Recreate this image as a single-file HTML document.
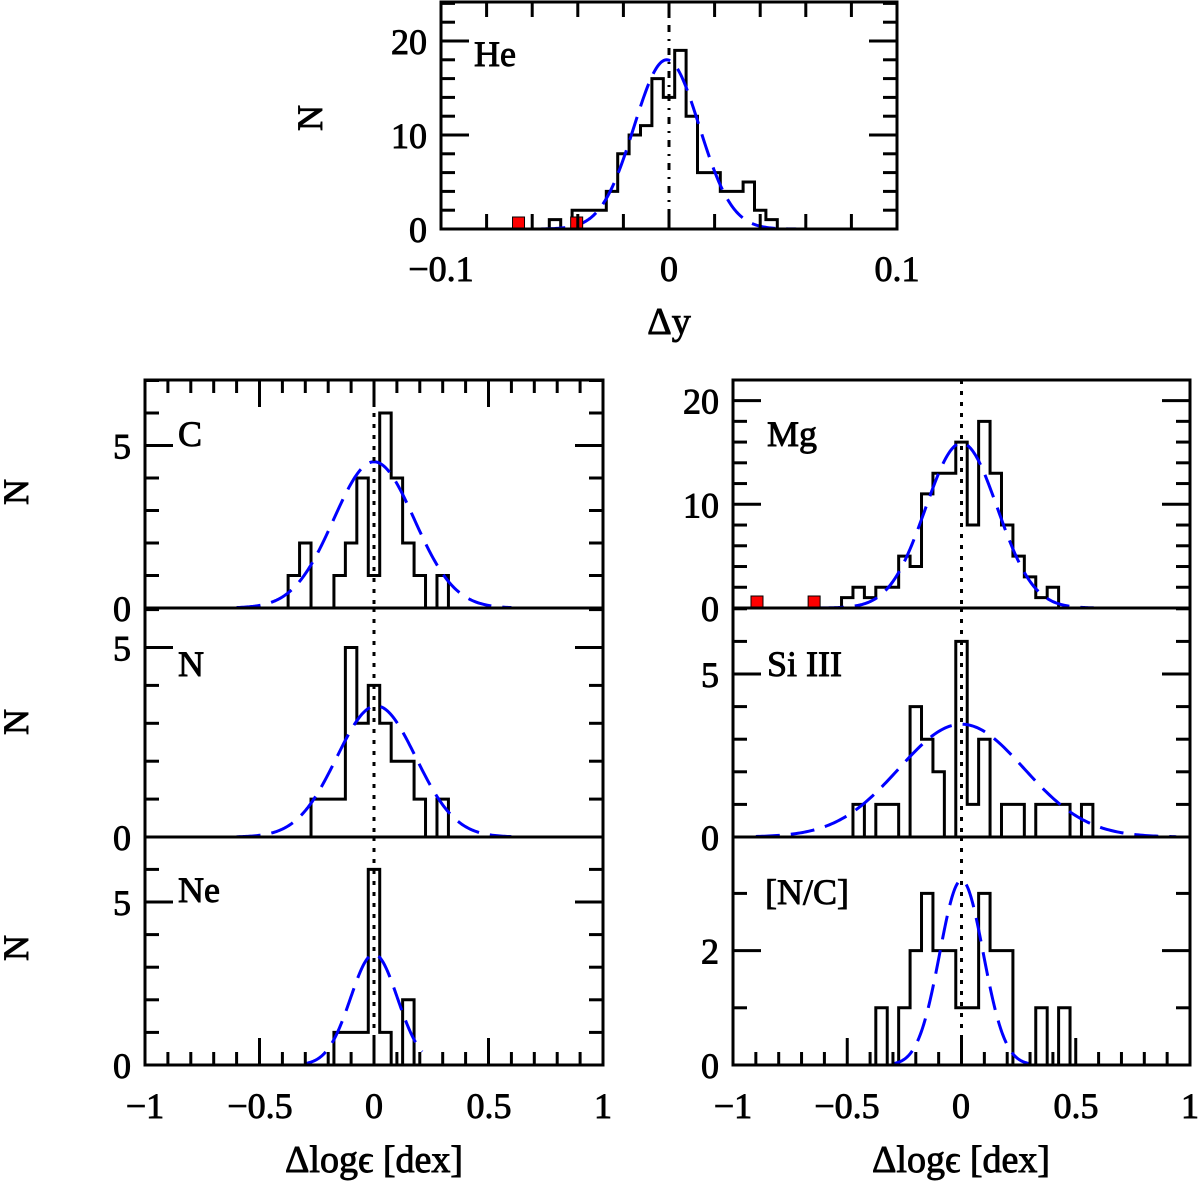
<!DOCTYPE html>
<html><head><meta charset="utf-8"><style>
html,body{margin:0;padding:0;background:#fff;}
svg{display:block;}
text{font-family:"Liberation Serif",serif;fill:#000;stroke:#000;stroke-width:0.9px;}
</style></head><body>
<svg id="fig" width="1200" height="1183" viewBox="0 0 1200 1183" xmlns="http://www.w3.org/2000/svg"></svg>
<script>
// ---- data ----
const heStart = -0.0525, heWidth = 0.005;
const heCounts = [1,0,2,2,2,4,8,10,11,16,14,19,12,6,6,4,4,5,2,1];
const heOutliers = [-0.066, -0.0405];
const heGauss = [-0.001, 0.0143, 18];   // mean, sigma, amplitude
const heGaussRange = [-0.056, 0.056];

const cStart = -0.375, cWidth = 0.05;
const cCounts = [1,2,0,0,1,2,4,1,6,4,2,1,0,1];
const cGauss = [0.0, 0.176, 4.5];
const cGaussRange = [-0.6, 0.6];

const nStart = -0.275, nWidth = 0.05;
const nCounts = [1,1,1,5,3,4,3,2,2,1,0,1];
const nGauss = [0.01, 0.173, 3.46];
const nGaussRange = [-0.6, 0.6];

const neStart = -0.175, neWidth = 0.05;
const neCounts = [1,1,1,6,1,0,2];
const neGauss = [0.0, 0.102, 3.4];
const neGaussRange = [-0.3, 0.21];

const mgStart = -0.525, mgWidth = 0.05;
const mgCounts = [1,2,1,2,2,5,4,11,13,13,16,8,18,13,8,5,3,1,2];
const mgOutliers = [-0.895, -0.645];
const mgGauss = [0.0, 0.157, 15.9];
const mgGaussRange = [-0.62, 0.58];

const siStart = -0.475, siWidth = 0.05;
const siCounts = [1,0,1,1,0,4,3,2,0,6,1,3,0,1,1,0,1,1,1,0,1];
const siGauss = [0.0, 0.274, 3.46];
const siGaussRange = [-0.9, 0.94];

const ncStart = -0.375, ncWidth = 0.05;
const ncCounts = [1,0,1,2,3,2,2,1,1,3,2,2,0,0,1,0,1];
const ncGauss = [0.0, 0.095, 3.23];
const ncGaussRange = [-0.3, 0.3];

const svg = document.getElementById('fig');
const NS = 'http://www.w3.org/2000/svg';
function mk(tag, attrs, parent){
  const e = document.createElementNS(NS, tag);
  for (const k in attrs) e.setAttribute(k, attrs[k]);
  (parent||svg).appendChild(e);
  return e;
}

function panel(p){
  const g = mk('g', {});
  
  
  const X = v => p.x0 + (v - p.xmin) / (p.xmax - p.xmin) * (p.x1 - p.x0);
  const Y = v => p.yb - v * p.ppc;
  let d = 'M' + X(p.start) + ',' + Y(0);
  p.counts.forEach((c, i) => {
    const a = p.start + i * p.width, b = a + p.width;
    d += ' L' + X(a) + ',' + Y(c) + ' L' + X(b) + ',' + Y(c);
  });
  d += ' L' + X(p.start + p.counts.length * p.width) + ',' + Y(0);
  const h = mk('path', {d: d, fill: 'none', stroke: '#000', 'stroke-width': 3, 'stroke-linejoin': 'miter'}, g);
  
  
  let gd = '';
  const n = 200;
  for (let i = 0; i <= n; i++) {
    const v = p.grange[0] + (p.grange[1] - p.grange[0]) * i / n;
    const yv = p.gauss[2] * Math.exp(-0.5 * Math.pow((v - p.gauss[0]) / p.gauss[1], 2));
    gd += (i ? ' L' : 'M') + X(v).toFixed(2) + ',' + Y(yv).toFixed(2);
  }
  const gc = mk('path', {d: gd, fill: 'none', stroke: '#0000ff', 'stroke-width': 3, 'stroke-dasharray': '24 11'}, g);
  
  
  const zl = mk('line', {x1: X(0), x2: X(0), y1: p.yt, y2: p.yb, stroke: '#000', 'stroke-width': 3, 'stroke-dasharray': p.dashdot ? '7 7 2 7' : '4 7'}, g);
  
  
  (p.outliers || []).forEach(v => {
    const s = 12;
    const r = mk('rect', {x: X(v) - s/2, y: Y(0) - s, width: s, height: s, fill: '#ff0000', stroke: '#000', 'stroke-width': 1}, g);
    
    
  });
  const fr = mk('rect', {x: p.x0, y: p.yt, width: p.x1 - p.x0, height: p.yb - p.yt, fill: 'none', stroke: '#000', 'stroke-width': 3}, g);
  
  
  const ymax = (p.yb - p.yt) / p.ppc;
  for (let k = p.yminor; k < ymax - 0.01; k += p.yminor) {
    const major = Math.abs(k / p.ymajor - Math.round(k / p.ymajor)) < 1e-6;
    const L = major ? 28 : 14;
    mk('line', {x1: p.x0, x2: p.x0 + L, y1: Y(k), y2: Y(k), stroke: '#000', 'stroke-width': 3}, g);
    mk('line', {x1: p.x1, x2: p.x1 - L, y1: Y(k), y2: Y(k), stroke: '#000', 'stroke-width': 3}, g);
  }
  p.ylabels.forEach(v => {
    const t = mk('text', {x: p.x0 - 14, y: Y(v) + 13, 'text-anchor': 'end', 'font-size': 36}, g);
    t.textContent = String(v);
    
    
  });
  if (p.xticks) {
    const steps = Math.round((p.xmax - p.xmin) / p.xminor);
    for (let i = 1; i < steps; i++) {
      const v = p.xmin + i * p.xminor;
      const major = Math.abs(v / p.xmajor - Math.round(v / p.xmajor)) < 1e-6;
      const L = major ? p.xmajL : p.xminL;
      if (p.xticks.includes('top')) mk('line', {x1: X(v), x2: X(v), y1: p.yt, y2: p.yt + L, stroke: '#000', 'stroke-width': 3}, g);
      if (p.xticks.includes('bottom')) mk('line', {x1: X(v), x2: X(v), y1: p.yb, y2: p.yb - L, stroke: '#000', 'stroke-width': 3}, g);
    }
  }
  const lb = mk('text', {x: p.lx, y: p.ly, 'font-size': 36}, g);
  lb.textContent = p.label;
  
  
  return {X, Y};
}

panel({name:'he', x0:441, x1:897, xmin:-0.1, xmax:0.1, yt:2, yb:229, ppc:9.4,
  start:heStart, width:heWidth, counts:heCounts, gauss:heGauss, grange:heGaussRange, outliers:heOutliers, dashdot:true,
  yminor:2, ymajor:10, ylabels:[0,10,20], xticks:['top','bottom'], xminor:0.02, xmajor:0.1, xmajL:15, xminL:15,
  label:'He', lx:474, ly:66});
panel({name:'carbon', x0:145, x1:603, xmin:-1, xmax:1, yt:380, yb:608, ppc:32.5,
  start:cStart, width:cWidth, counts:cCounts, gauss:cGauss, grange:cGaussRange,
  yminor:1, ymajor:5, ylabels:[0,5], xticks:['top'], xminor:0.1, xmajor:0.5, xmajL:27, xminL:13,
  label:'C', lx:178, ly:446});
panel({name:'nitrogen', x0:145, x1:603, xmin:-1, xmax:1, yt:608, yb:837, ppc:37.9,
  start:nStart, width:nWidth, counts:nCounts, gauss:nGauss, grange:nGaussRange,
  yminor:1, ymajor:5, ylabels:[0,5], xticks:null,
  label:'N', lx:178, ly:676});
panel({name:'neon', x0:145, x1:603, xmin:-1, xmax:1, yt:837, yb:1065, ppc:32.6,
  start:neStart, width:neWidth, counts:neCounts, gauss:neGauss, grange:neGaussRange,
  yminor:1, ymajor:5, ylabels:[0,5], xticks:['bottom'], xminor:0.1, xmajor:0.5, xmajL:27, xminL:13,
  label:'Ne', lx:178, ly:902});
panel({name:'magnesium', x0:733, x1:1190, xmin:-1, xmax:1, yt:380, yb:608, ppc:10.37,
  start:mgStart, width:mgWidth, counts:mgCounts, gauss:mgGauss, grange:mgGaussRange, outliers:mgOutliers,
  yminor:2, ymajor:10, ylabels:[0,10,20], xticks:null,
  label:'Mg', lx:767, ly:446});
panel({name:'silicon-iii', x0:733, x1:1190, xmin:-1, xmax:1, yt:608, yb:837, ppc:32.6,
  start:siStart, width:siWidth, counts:siCounts, gauss:siGauss, grange:siGaussRange,
  yminor:1, ymajor:5, ylabels:[0,5], xticks:null,
  label:'Si  III', lx:767, ly:676});
panel({name:'n-over-c', x0:733, x1:1190, xmin:-1, xmax:1, yt:837, yb:1065, ppc:57.2,
  start:ncStart, width:ncWidth, counts:ncCounts, gauss:ncGauss, grange:ncGaussRange,
  yminor:1, ymajor:2, ylabels:[0,2], xticks:['bottom'], xminor:0.1, xmajor:0.5, xmajL:27, xminL:13,
  label:'[N/C]', lx:765, ly:904});

function txt(s, x, y, name, size, rot){
  const t = mk('text', {x: x, y: y, 'text-anchor': 'middle', 'font-size': size || 36});
  if (rot) t.setAttribute('transform', 'rotate(' + rot + ' ' + x + ' ' + y + ')');
  t.textContent = s;
  
  
}
const heXTicks = ['\u22120.1','0','0.1'];
[441, 669, 897].forEach((x, i) => txt(heXTicks[i], x, 281, 'he-x-tick-label'));
txt('\u0394y', 669, 334, 'he-x-axis-title', 38);
txt('N', 322, 118, 'he-y-axis-title', 36, -90);
const dexTicks = ['\u22121','\u22120.5','0','0.5','1'];
[145, 260, 374, 489, 603].forEach((x, i) => txt(dexTicks[i], x, 1118, 'left-x-tick-label'));
[733, 847, 961, 1076, 1190].forEach((x, i) => txt(dexTicks[i], x, 1118, 'right-x-tick-label'));
txt('\u0394log\u03f5 [dex]', 374, 1172, 'left-x-axis-title', 38);
txt('\u0394log\u03f5 [dex]', 961, 1172, 'right-x-axis-title', 38);
[492, 722, 948].forEach(y => txt('N', 28, y, 'y-axis-title', 36, -90));
</script>
</body></html>
